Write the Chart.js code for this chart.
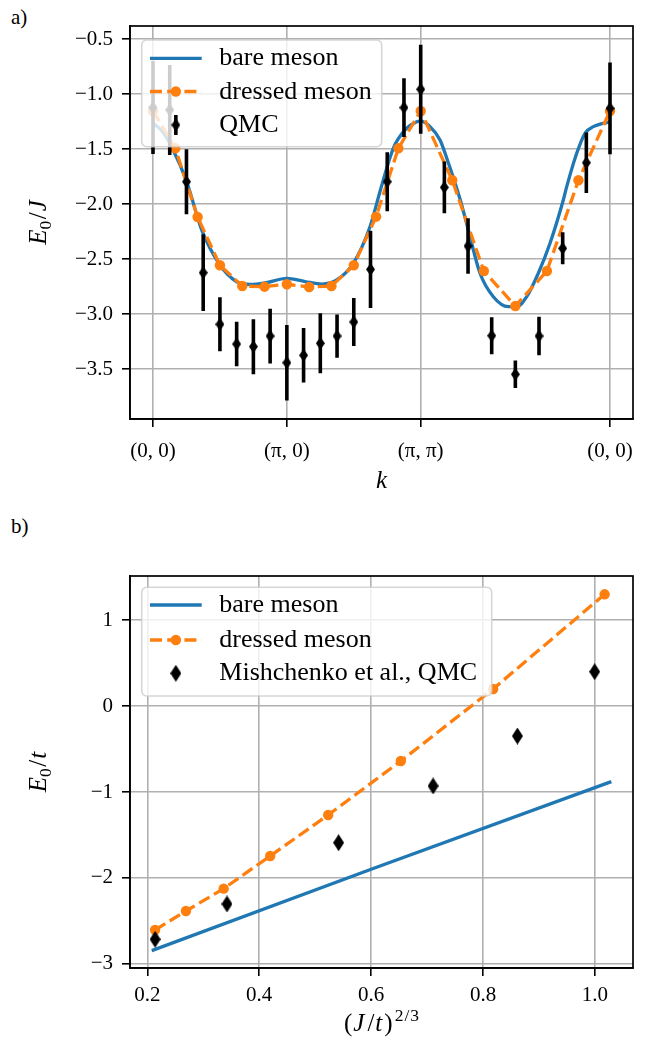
<!DOCTYPE html>
<html><head><meta charset="utf-8">
<script src="https://cdn.jsdelivr.net/npm/chart.js@4.4.1/dist/chart.umd.min.js"></script>
<style>
html,body{margin:0;padding:0;background:#fff;}
body{width:646px;height:1047px;position:relative;overflow:hidden;font-family:"Liberation Serif",serif;}
canvas{position:absolute;left:0;}
#c1{top:0;} #c2{top:523px;}
.panel{position:absolute;left:11px;font-size:21px;line-height:21px;color:#000;}
</style></head><body>
<div class="panel" style="top:7px">a)</div>
<div class="panel" style="top:516px">b)</div>
<canvas id="c1" width="646" height="523"></canvas>
<canvas id="c2" width="646" height="524"></canvas>
<script>
// ---------- panel a) data (k path coordinate in units of pi) ----------
const kTickPos = [0, 1, 2, 3.4142];
const kTickLabels = ['(0, 0)', '(π, 0)', '(π, π)', '(0, 0)'];
const topYTicks = [-3.5, -3.0, -2.5, -2.0, -1.5, -1.0, -0.5];
const topYLabels = ['−3.5', '−3.0', '−2.5', '−2.0', '−1.5', '−1.0', '−0.5'];

const bareK = [0, 0.0672, 0.1397, 0.2518, 0.3638, 0.5005, 0.6253, 0.7247, 0.8367, 1.0,
  1.1356, 1.2626, 1.3724, 1.4964, 1.6212, 1.7034, 1.7953, 1.8827, 1.9701, 2.0,
  2.0695, 2.1442, 2.1942, 2.2936, 2.3556, 2.4430, 2.5424, 2.6545, 2.7172, 2.7919,
  2.8786, 2.9660, 3.0654, 3.0908, 3.1655, 3.2275, 3.2895, 3.4142];
const bareE = [-1.262, -1.335, -1.480, -1.796, -2.235, -2.554, -2.706, -2.731, -2.717, -2.675,
  -2.704, -2.727, -2.690, -2.538, -2.205, -1.853, -1.492, -1.325, -1.250, -1.245,
  -1.295, -1.416, -1.580, -1.953, -2.235, -2.629, -2.842, -2.933, -2.933, -2.842,
  -2.629, -2.356, -1.962, -1.841, -1.537, -1.355, -1.295, -1.250];

const dressedK = [0, 0.1667, 0.3333, 0.5, 0.6667, 0.8333, 1.0, 1.1667, 1.3333, 1.5, 1.6667, 1.8333, 2.0,
  2.2357, 2.4714, 2.7071, 2.9428, 3.1785, 3.4142];
const dressedE = [-1.152, -1.492, -2.117, -2.556, -2.745, -2.751, -2.729, -2.754, -2.745, -2.556, -2.114, -1.492, -1.152,
  -1.783, -2.608, -2.927, -2.608, -1.783, -1.152];

const qmcK = [0, 0.125, 0.25, 0.375, 0.5, 0.625, 0.75, 0.875, 1.0, 1.125, 1.25, 1.375, 1.5, 1.625, 1.75, 1.875, 2.0,
  2.1768, 2.3536, 2.5303, 2.7071, 2.8839, 3.0607, 3.2374, 3.4142];
const qmcE = [-1.121, -1.143, -1.796, -2.624, -3.093, -3.273, -3.297, -3.200, -3.443, -3.375, -3.266, -3.200, -3.072, -2.593, -1.796, -1.122, -0.955,
  -1.847, -2.381, -3.197, -3.548, -3.200, -2.402, -1.623, -1.128];
const qmcErr = [0.423, 0.409, 0.296, 0.349, 0.246, 0.203, 0.250, 0.249, 0.344, 0.247, 0.273, 0.197, 0.218, 0.352, 0.268, 0.268, 0.405,
  0.235, 0.253, 0.168, 0.125, 0.175, 0.146, 0.276, 0.417];

// ---------- panel b) data ----------
const jtTicks = [0.2, 0.4, 0.6, 0.8, 1.0];
const jtLabels = ['0.2', '0.4', '0.6', '0.8', '1.0'];
const botYTicks = [-3, -2, -1, 0, 1];
const botYLabels = ['−3', '−2', '−1', '0', '1'];

const bareJt = [0.2079, 0.6, 1.0293];
const bareE0 = [-2.845, -1.899, -0.880];
const dressedJt = [0.2138, 0.269, 0.3364, 0.4196, 0.5232, 0.653, 0.818, 1.0173];
const dressedE0 = [-2.605, -2.384, -2.124, -1.744, -1.267, -0.640, 0.198, 1.299];
const mishJt = [0.2138, 0.3423, 0.5418, 0.7107, 0.8614, 0.9995];
const mishE0 = [-2.713, -2.302, -1.590, -0.930, -0.349, 0.399];

// ---------- helpers ----------
const BLUE = '#1f77b4', ORANGE = '#ff7f0e';
const FF = '"Liberation Serif", serif';
const LW = 3.3, DASH = [12, 5.2];
const pts = (xs, ys) => xs.map((x, i) => ({x: x, y: ys[i]}));

function thinDiamond(w, h) {
  const c = document.createElement('canvas');
  c.width = w; c.height = h;
  const g = c.getContext('2d');
  g.fillStyle = '#000';
  g.beginPath();
  g.moveTo(w / 2, 0); g.lineTo(w, h / 2); g.lineTo(w / 2, h); g.lineTo(0, h / 2);
  g.closePath(); g.fill();
  return c;
}
const diaTop = thinDiamond(9, 13);
const diaBot = thinDiamond(11, 17);

function axis(o) {
  return {
    type: 'linear', position: o.pos, min: o.min, max: o.max,
    afterBuildTicks: s => { s.ticks = o.ticks.map(v => ({value: v})); },
    afterFit: s => { if (o.pos === 'left') s.width = o.size; else s.height = o.size; },
    grid: {color: '#b0b0b0', lineWidth: 1.6, drawTicks: true, tickLength: 8, tickColor: '#000', tickWidth: 1.6},
    border: {display: true, color: '#000', width: 1.7},
    ticks: {color: '#000', font: {family: '"Liberation Serif"', size: 21}, padding: o.pad,
      autoSkip: false, maxRotation: 0, minRotation: 0, callback: (v, i) => o.labels[i]},
    title: {display: false}
  };
}

function drawRich(ctx, parts, x, y, angle) {
  ctx.save();
  ctx.translate(x, y); ctx.rotate(angle || 0);
  ctx.fillStyle = '#000'; ctx.textBaseline = 'alphabetic'; ctx.textAlign = 'left';
  let total = 0;
  const ws = parts.map(p => { ctx.font = p.font; const w = ctx.measureText(p.t).width + (p.sp || 0); total += w; return w; });
  let cx = -total / 2;
  parts.forEach((p, i) => { ctx.font = p.font; ctx.fillText(p.t, cx, p.dy || 0); cx += ws[i]; });
  ctx.restore();
}

function drawLegend(chart, L) {
  const ctx = chart.ctx;
  ctx.save();
  ctx.beginPath();
  ctx.roundRect(L.x, L.y, L.w, L.h, 5);
  ctx.fillStyle = 'rgba(255,255,255,0.8)'; ctx.fill();
  ctx.strokeStyle = 'rgba(204,204,204,0.8)'; ctx.lineWidth = 1.6; ctx.stroke();
  const x0 = L.x + 8.3, x1 = x0 + 51.7, xm = (x0 + x1) / 2;
  L.rows.forEach((r, i) => {
    const y = L.rowY[i];
    const ds = chart.data.datasets[r.ds];
    if (r.kind === 'line') {
      ctx.save();
      ctx.strokeStyle = ds.borderColor; ctx.lineWidth = ds.borderWidth;
      ctx.setLineDash(ds.borderDash || []);
      ctx.beginPath(); ctx.moveTo(x0, y); ctx.lineTo(x1, y); ctx.stroke();
      ctx.restore();
      if (r.marker) {
        ctx.fillStyle = ds.pointBackgroundColor;
        ctx.beginPath(); ctx.arc(xm, y, ds.pointRadius, 0, Math.PI * 2); ctx.fill();
      }
    } else {
      if (r.bar) {
        ctx.strokeStyle = '#000'; ctx.lineWidth = 3.6;
        ctx.beginPath(); ctx.moveTo(xm, y - r.bar); ctx.lineTo(xm, y + r.bar); ctx.stroke();
      }
      const img = ds.pointStyle;
      ctx.drawImage(img, xm - img.width / 2, y - img.height / 2);
    }
    ctx.fillStyle = '#000';
    ctx.font = '26px ' + FF;
    ctx.textBaseline = 'alphabetic'; ctx.textAlign = 'left';
    ctx.fillText(ds.label, L.x + 77.6, y + 7);
  });
  ctx.restore();
}

function decor(cfg) {
  return {
    id: 'decor',
    afterDatasetsDraw(chart) { drawLegend(chart, cfg.legend); },
    afterDraw(chart) {
      const ctx = chart.ctx, a = chart.chartArea;
      ctx.save();
      ctx.strokeStyle = '#000'; ctx.lineWidth = 1.7;
      ctx.strokeRect(a.left, a.top, a.right - a.left, a.bottom - a.top);
      ctx.restore();
      drawRich(ctx, cfg.xTitle.parts, (a.left + a.right) / 2, cfg.xTitle.baseline, 0);
      drawRich(ctx, cfg.yTitle.parts, cfg.yTitle.baseline, (a.top + a.bottom) / 2, -Math.PI / 2);
    }
  };
}

const R25 = '25px ' + FF, I25 = 'italic 25px ' + FF, R17 = '17.5px ' + FF;

// ---------- panel a) ----------
const errData = [];
qmcK.forEach((k, i) => {
  errData.push({x: k, y: qmcE[i] - qmcErr[i]});
  errData.push({x: k, y: qmcE[i] + qmcErr[i]});
  errData.push({x: k, y: null});
});

new Chart(document.getElementById('c1'), {
  type: 'scatter',
  data: {datasets: [
    {label: 'bare meson', data: pts(bareK, bareE), showLine: true, borderColor: BLUE, borderWidth: LW,
      pointRadius: 0, cubicInterpolationMode: 'monotone', order: 4},
    {label: 'dressed meson', data: pts(dressedK, dressedE), showLine: true, borderColor: ORANGE, borderWidth: LW,
      borderDash: DASH, pointRadius: 5.2, pointBackgroundColor: ORANGE, pointBorderColor: ORANGE, pointBorderWidth: 0, order: 3},
    {label: 'QMC', data: pts(qmcK, qmcE), showLine: false, pointStyle: diaTop, pointRadius: 7, order: 1},
    {label: 'QMC error', data: errData, showLine: true, spanGaps: false, borderColor: '#000', borderWidth: 3.6,
      borderCapStyle: 'butt', pointRadius: 0, order: 2}
  ]},
  options: {
    animation: false, responsive: false, maintainAspectRatio: false, devicePixelRatio: 1,
    layout: {padding: {left: 0, top: 26, right: 13, bottom: 0}},
    plugins: {legend: {display: false}, tooltip: {enabled: false}},
    scales: {
      x: axis({pos: 'bottom', min: -0.1718, max: 3.586, ticks: kTickPos, labels: kTickLabels, size: 104, pad: 12}),
      y: axis({pos: 'left', min: -3.955, max: -0.379, ticks: topYTicks, labels: topYLabels, size: 130, pad: 9})
    }
  },
  plugins: [decor({
    legend: {x: 141.7, y: 40, w: 240, h: 106.7, rowY: [58.3, 91.5, 125],
      rows: [{ds: 0, kind: 'line'}, {ds: 1, kind: 'line', marker: true}, {ds: 2, kind: 'marker', bar: 10}]},
    xTitle: {baseline: 488, parts: [{t: 'k', font: I25}]},
    yTitle: {baseline: 46, parts: [{t: 'E', font: I25}, {t: '0', font: R17, dy: 5, sp: 1.5}, {t: '/', font: R25, sp: 1}, {t: 'J', font: I25}]}
  })]
});

// ---------- panel b) ----------
new Chart(document.getElementById('c2'), {
  type: 'scatter',
  data: {datasets: [
    {label: 'bare meson', data: pts(bareJt, bareE0), showLine: true, borderColor: BLUE, borderWidth: LW,
      pointRadius: 0, order: 3},
    {label: 'dressed meson', data: pts(dressedJt, dressedE0), showLine: true, borderColor: ORANGE, borderWidth: LW,
      borderDash: DASH, pointRadius: 5.2, pointBackgroundColor: ORANGE, pointBorderColor: ORANGE, pointBorderWidth: 0, order: 2},
    {label: 'Mishchenko et al., QMC', data: pts(mishJt, mishE0), showLine: false, pointStyle: diaBot, pointRadius: 9, order: 1}
  ]},
  options: {
    animation: false, responsive: false, maintainAspectRatio: false, devicePixelRatio: 1,
    layout: {padding: {left: 0, top: 53, right: 13, bottom: 0}},
    plugins: {legend: {display: false}, tooltip: {enabled: false}},
    scales: {
      x: axis({pos: 'bottom', min: 0.169, max: 1.068, ticks: jtTicks, labels: jtLabels, size: 79, pad: 7}),
      y: axis({pos: 'left', min: -3.047, max: 1.512, ticks: botYTicks, labels: botYLabels, size: 130, pad: 9})
    }
  },
  plugins: [decor({
    legend: {x: 141.7, y: 64.3, w: 350, h: 108.7, rowY: [82, 117, 150.3],
      rows: [{ds: 0, kind: 'line'}, {ds: 1, kind: 'line', marker: true}, {ds: 2, kind: 'marker'}]},
    xTitle: {baseline: 508, parts: [{t: '(', font: R25, sp: 1}, {t: 'J', font: I25, sp: 3}, {t: '/', font: R25, sp: 1}, {t: 't', font: I25, sp: 2},
      {t: ')', font: R25, sp: 2}, {t: '2', font: R17, dy: -10, sp: 1}, {t: '/', font: R17, dy: -10, sp: 1}, {t: '3', font: R17, dy: -10}]},
    yTitle: {baseline: 46, parts: [{t: 'E', font: I25}, {t: '0', font: R17, dy: 5, sp: 1.5}, {t: '/', font: R25, sp: 1}, {t: 't', font: I25}]}
  })]
});
</script>
</body></html>
